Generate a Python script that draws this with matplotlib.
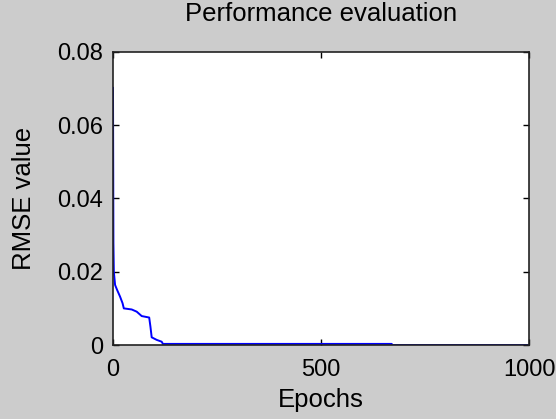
import matplotlib
matplotlib.use("Agg")
import matplotlib.pyplot as plt

# RMSE per epoch (staircase shape)
epochs = [0, 1, 2, 5, 10, 17, 23, 26, 45, 57, 69, 87, 90, 93, 105, 117, 120, 670, 671, 1000]
rmse = [0.0702, 0.0279, 0.0200, 0.0164, 0.0150, 0.0132, 0.0114, 0.0100, 0.0097, 0.0091,
        0.0079, 0.0075, 0.0050, 0.0021, 0.0014, 0.0009, 0.0003, 0.0003, 0.0, 0.0]

xticks = [0, 500, 1000]
yticks = [0, 0.02, 0.04, 0.06, 0.08]
ytick_labels = ["0", "0.02", "0.04", "0.06", "0.08"]

plt.rcParams['font.family'] = ['Liberation Sans', 'DejaVu Sans']

W, H = 556, 419
fig = plt.figure(figsize=(W/100, H/100), dpi=100, facecolor='#cccccc')

ax = fig.add_axes([113/W, 1 - 345/H, (529-113)/W, (345-52)/H])
ax.set_facecolor('white')

ax.plot(epochs, rmse, color='#0000ff', lw=1.4)

ax.set_xlim(0, 1000)
ax.set_ylim(0, 0.08)
ax.set_xticks(xticks)
ax.set_yticks(yticks)
ax.set_yticklabels(ytick_labels)
ax.tick_params(direction='in', length=4, width=1, top=True, right=True,
               labelsize=17, colors='black')
ax.tick_params(axis='x', pad=10)
ax.tick_params(axis='y', pad=7)
for s in ax.spines.values():
    s.set_linewidth(1.2)
    s.set_color('#222222')

ax.set_title("Performance evaluation", fontsize=18.5, pad=22)
ax.set_xlabel("Epochs", fontsize=18.5, labelpad=5)
ax.set_ylabel("RMSE value", fontsize=18.5, labelpad=15)

fig.savefig("out.png", dpi=100, facecolor=fig.get_facecolor())
